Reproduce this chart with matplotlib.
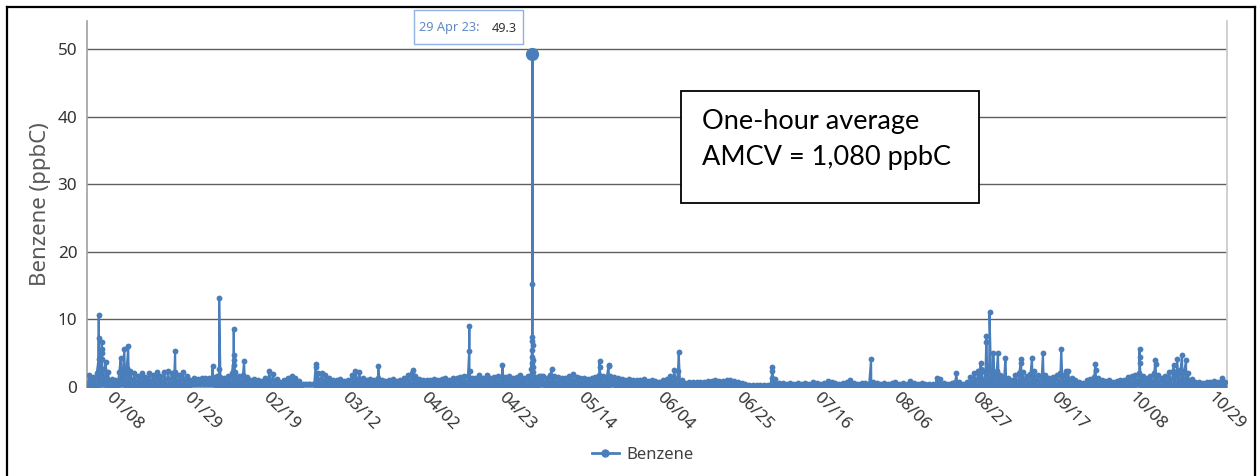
import matplotlib
matplotlib.use('Agg')
import matplotlib.pyplot as plt
import matplotlib.dates as mdates
from matplotlib.lines import Line2D
from matplotlib.patches import Rectangle
import pandas as pd

# ---------------- data ----------------
month_starts = ['2023-01-01', '2023-02-01', '2023-03-01', '2023-04-01', '2023-05-01',
                '2023-06-01', '2023-07-01', '2023-08-01', '2023-09-01', '2023-10-01']

# daily upper envelope of the hourly benzene band (ppbC)
jan_max = [1.8, 1.5, 2.0, 2.5, 2.6, 2.2, 1.2, 1.0, 2.2, 2.6, 2.8, 2.4, 2.0, 1.6, 2.1, 1.5, 2.1, 1.8, 2.2, 1.6,
           2.2, 2.3, 2.0, 2.2, 1.8, 2.2, 1.6, 1.0, 1.3, 1.2, 1.3]
feb_max = [1.3, 1.4, 1.5, 1.6, 1.5, 1.3, 1.6, 2.0, 2.2, 1.7, 1.8, 1.5, 1.0, 1.2, 1.0, 0.9, 1.4, 2.3, 1.9, 1.2,
           0.8, 1.0, 1.3, 1.6, 1.3, 0.9, 0.5, 0.4]
mar_max = [0.4, 0.5, 2.0, 2.1, 1.8, 1.3, 1.1, 1.0, 1.2, 0.9, 1.0, 1.8, 2.4, 2.2, 1.3, 1.0, 1.2, 1.0, 1.4, 1.1,
           0.9, 1.0, 1.2, 0.9, 1.0, 1.3, 1.8, 2.0, 1.6, 1.2, 1.0]
apr_max = [1.0, 1.1, 1.2, 1.0, 1.2, 1.3, 1.1, 1.4, 1.3, 1.5, 1.6, 1.7, 1.4, 1.3, 1.8, 1.4, 1.8, 1.3, 1.5, 1.6,
           1.4, 1.5, 1.7, 1.4, 1.5, 1.8, 1.4, 1.6, 2.0, 1.5]
may_max = [1.7, 1.6, 1.4, 1.8, 1.6, 1.5, 1.4, 1.3, 1.6, 1.9, 1.5, 1.3, 1.4, 1.2, 1.3, 1.5, 1.8, 1.6, 1.4, 1.7,
           1.5, 1.3, 1.2, 1.1, 1.2, 1.0, 1.1, 1.0, 1.2, 0.9, 1.0]
jun_max = [0.9, 0.8, 1.0, 1.2, 1.6, 2.5, 2.3, 1.0, 0.6, 0.7, 0.7, 0.8, 0.7, 0.8, 0.9, 0.9, 1.0, 0.9, 0.9, 1.1,
           1.0, 0.9, 0.7, 0.6, 0.4, 0.3, 0.3, 0.3, 0.3, 0.3]
jul_max = [0.3, 1.4, 1.2, 0.6, 0.6, 0.5, 0.6, 0.5, 0.6, 0.5, 0.6, 0.5, 0.7, 0.6, 0.5, 0.6, 0.9, 0.7, 0.6, 0.5,
           0.6, 0.7, 1.0, 0.6, 0.5, 0.6, 0.6, 0.5, 0.8, 0.6, 0.5]
aug_max = [0.6, 0.5, 0.6, 0.7, 0.5, 0.6, 0.5, 0.9, 0.6, 0.5, 0.6, 0.5, 0.4, 0.5, 1.3, 1.2, 0.6, 0.5, 0.6, 0.8,
           0.7, 0.5, 0.8, 1.5, 2.0, 2.4, 2.5, 2.2, 2.6, 2.0, 2.3]
sep_max = [1.8, 1.5, 1.3, 1.0, 1.8, 2.0, 2.2, 1.6, 1.9, 2.4, 1.8, 1.5, 1.8, 1.3, 1.5, 1.8, 2.0, 1.8, 2.4, 1.3,
           1.0, 0.8, 0.6, 1.0, 1.2, 1.5, 1.3, 1.0, 0.9, 1.0]
oct_max = [0.8, 0.9, 1.0, 1.1, 1.5, 1.6, 1.8, 2.0, 1.7, 1.4, 1.6, 2.0, 1.8, 1.4, 1.7, 2.2, 2.4, 2.2, 2.5, 2.3,
           2.0, 1.2, 0.8, 0.7, 0.6, 0.7, 0.8, 0.9, 0.7, 1.3, 0.8]

# daily lower envelope (ppbC)
jan_min = [0.2, 0.3, 0.2, 0.3, 0.4, 0.3, 0.2, 0.2, 0.3, 0.4, 0.3, 0.3, 0.2, 0.2, 0.3, 0.2, 0.3, 0.2, 0.2, 0.3,
           0.2, 0.2, 0.3, 0.2, 0.2, 0.3, 0.2, 0.2, 0.4, 0.4, 0.5]
feb_min = [0.5, 0.4, 0.4, 0.3, 0.2, 0.2, 0.3, 0.3, 0.2, 0.2, 0.3, 0.2, 0.1, 0.2, 0.1, 0.1, 0.2, 0.3, 0.2, 0.2,
           0.1, 0.1, 0.2, 0.2, 0.1, 0.1, 0.3, 0.4]
mar_min = [0.4, 0.4, 0.2, 0.3, 0.2, 0.2, 0.1, 0.2, 0.1, 0.1, 0.1, 0.3, 0.3, 0.2, 0.1, 0.2, 0.1, 0.2, 0.1, 0.1,
           0.1, 0.2, 0.1, 0.1, 0.2, 0.2, 0.3, 0.2, 0.1, 0.1, 0.1]
apr_min = [0.1, 0.2, 0.2, 0.1, 0.2, 0.2, 0.1, 0.2, 0.2, 0.2, 0.3, 0.2, 0.2, 0.2, 0.3, 0.2, 0.3, 0.2, 0.2, 0.3,
           0.2, 0.2, 0.3, 0.2, 0.2, 0.3, 0.2, 0.2, 0.3, 0.2]
may_min = [0.3, 0.4, 0.2, 0.3, 0.2, 0.2, 0.2, 0.2, 0.2, 0.3, 0.2, 0.2, 0.2, 0.2, 0.2, 0.2, 0.3, 0.2, 0.2, 0.3,
           0.4, 0.2, 0.2, 0.1, 0.2, 0.1, 0.1, 0.1, 0.2, 0.1, 0.1]
jun_min = [0.1, 0.1, 0.1, 0.2, 0.2, 0.3, 0.3, 0.2, 0.1, 0.1, 0.1, 0.1, 0.1, 0.1, 0.1, 0.1, 0.2, 0.1, 0.1, 0.2,
           0.1, 0.1, 0.1, 0.1, 0.1, 0.1, 0.1, 0.1, 0.1, 0.1]
jul_min = [0.1, 0.2, 0.2, 0.1, 0.1, 0.1, 0.1, 0.1, 0.1, 0.1, 0.1, 0.1, 0.1, 0.1, 0.1, 0.1, 0.1, 0.1, 0.1, 0.1,
           0.1, 0.1, 0.1, 0.1, 0.1, 0.1, 0.1, 0.1, 0.1, 0.1, 0.1]
aug_min = [0.1, 0.1, 0.1, 0.1, 0.1, 0.1, 0.1, 0.1, 0.1, 0.1, 0.1, 0.1, 0.1, 0.1, 0.1, 0.1, 0.1, 0.1, 0.1, 0.1,
           0.1, 0.1, 0.1, 0.1, 0.1, 0.2, 0.2, 0.1, 0.1, 0.1, 0.1]
sep_min = [0.2, 0.2, 0.2, 0.1, 0.2, 0.2, 0.2, 0.2, 0.2, 0.2, 0.2, 0.2, 0.2, 0.1, 0.1, 0.2, 0.2, 0.2, 0.3, 0.2,
           0.1, 0.1, 0.1, 0.1, 0.1, 0.2, 0.2, 0.1, 0.1, 0.1]
oct_min = [0.1, 0.1, 0.1, 0.1, 0.2, 0.2, 0.2, 0.4, 0.2, 0.2, 0.2, 0.2, 0.2, 0.2, 0.2, 0.2, 0.2, 0.3, 0.2, 0.2,
           0.2, 0.1, 0.1, 0.1, 0.1, 0.1, 0.1, 0.1, 0.1, 0.1, 0.1]

# individual hourly peaks (ppbC)
spike_times = ['2023-01-04 02:00', '2023-01-04 03:00', '2023-01-04 04:00',
               '2023-01-04 21:00', '2023-01-04 22:00', '2023-01-04 23:00', '2023-01-05 00:00',
               '2023-01-06 01:00', '2023-01-10 00:00', '2023-01-10 23:00', '2023-01-12 00:00',
               '2023-01-24 12:00', '2023-02-03 12:00', '2023-02-05 05:00', '2023-02-05 06:00',
               '2023-02-09 02:00', '2023-02-09 03:00', '2023-02-09 04:00', '2023-02-09 05:00',
               '2023-02-11 21:00', '2023-03-03 00:00', '2023-03-03 01:00', '2023-03-19 16:00',
               '2023-03-28 22:00', '2023-04-12 22:00', '2023-04-12 23:00', '2023-04-13 00:00',
               '2023-04-21 19:00',
               '2023-04-29 12:00', '2023-04-29 13:00', '2023-04-29 14:00', '2023-04-29 15:00',
               '2023-04-29 16:00', '2023-04-29 17:00', '2023-04-29 18:00', '2023-04-29 19:00',
               '2023-04-29 20:00', '2023-04-29 21:00', '2023-04-29 22:00', '2023-04-29 23:00',
               '2023-05-02 00:00', '2023-05-04 21:00', '2023-05-17 16:00', '2023-05-17 17:00',
               '2023-05-20 02:00', '2023-05-20 03:00', '2023-06-07 19:00', '2023-07-02 16:00',
               '2023-07-02 17:00', '2023-07-29 02:00', '2023-08-20 19:00', '2023-08-27 07:00',
               '2023-08-27 08:00', '2023-08-28 19:00', '2023-08-28 20:00', '2023-08-29 16:00',
               '2023-08-30 16:00', '2023-08-31 22:00', '2023-09-02 22:00', '2023-09-07 02:00',
               '2023-09-07 03:00', '2023-09-10 00:00', '2023-09-12 22:00', '2023-09-17 19:00',
               '2023-09-19 02:00', '2023-09-26 22:00', '2023-09-26 23:00', '2023-10-08 16:00',
               '2023-10-08 17:00', '2023-10-08 18:00', '2023-10-12 22:00', '2023-10-12 23:00',
               '2023-10-17 19:00', '2023-10-18 17:00', '2023-10-20 00:00', '2023-10-21 02:00']
spike_values = [4.2, 10.7, 7.3,
                4.2, 5.0, 6.7, 5.7,
                3.75, 4.25, 5.7, 6.0,
                5.4, 3.1, 2.7, 13.2,
                4.0, 8.6, 4.7, 3.3,
                3.85, 3.4, 3.0, 3.15,
                2.55, 5.4, 9.1, 2.4,
                3.2,
                2.6, 3.6, 4.5, 5.5,
                6.8, 7.4, 15.2, 49.3,
                6.2, 4.0, 3.0, 2.2,
                1.7, 2.6, 3.9, 3.0,
                3.2, 3.1, 5.2, 2.4,
                3.0, 4.15, 2.1, 3.5,
                2.7, 6.7, 7.55, 11.1,
                5.1, 5.1, 4.25, 4.15,
                3.6, 4.35, 5.0, 5.6,
                2.4, 3.45, 2.5, 5.6,
                4.4, 3.5, 4.05, 3.4,
                3.25, 4.15, 4.7, 4.0]

peak_time = '2023-04-29 19:00'
peak_label = '29 Apr 23:'
peak_value = 49.3

x_ticks = ['2023-01-08', '2023-01-29', '2023-02-19', '2023-03-12', '2023-04-02', '2023-04-23',
           '2023-05-14', '2023-06-04', '2023-06-25', '2023-07-16', '2023-08-06', '2023-08-27',
           '2023-09-17', '2023-10-08', '2023-10-29']
y_ticks = [0, 10, 20, 30, 40, 50]
series_name = 'Benzene'
y_label = 'Benzene (ppbC)'
note_lines = ['One-hour average', 'AMCV = 1,080 ppbC']

# ---------------- assemble hourly-like series ----------------
max_lists = [jan_max, feb_max, mar_max, apr_max, may_max, jun_max, jul_max, aug_max, sep_max, oct_max]
min_lists = [jan_min, feb_min, mar_min, apr_min, may_min, jun_min, jul_min, aug_min, sep_min, oct_min]
times, vals = [], []
for start, mn, mx in zip(month_starts, min_lists, max_lists):
    s = pd.Timestamp(start)
    for i, (lo, hi) in enumerate(zip(mn, mx)):
        day = s + pd.Timedelta(days=i)
        times += [day + pd.Timedelta(hours=4), day + pd.Timedelta(hours=14)]
        vals += [lo, hi]
times += list(pd.to_datetime(spike_times))
vals += spike_values
series = pd.Series(vals, index=pd.DatetimeIndex(times)).sort_index()

# ---------------- figure ----------------
W, H = 1257, 476
fig = plt.figure(figsize=(W / 100, H / 100), dpi=100)
fig.patch.set_facecolor('white')
FONT = ['Noto Sans', 'DejaVu Sans']

left_px, right_px, top_px, bottom_px = 87, 1227, 21, 387
ax = fig.add_axes([left_px / W, 1 - bottom_px / H, (right_px - left_px) / W, (bottom_px - top_px) / H])

blue = '#4a7ebb'
ax.fill_between(series.index, series.values, 0, color=blue, lw=0, zorder=2)
ax.plot(series.index, series.values, color=blue, lw=1.5, marker='o', ms=4.2,
        markeredgewidth=0, zorder=3, label=series_name)
ax.plot([pd.Timestamp(peak_time)], [peak_value], 'o', color=blue, ms=8.5, zorder=4)

ax.set_xlim(pd.Timestamp('2023-01-01'), pd.Timestamp('2023-11-01'))
ax.set_ylim(0, 54.2)
ax.set_yticks(y_ticks)
ax.set_xticks(pd.to_datetime(x_ticks))
ax.xaxis.set_major_formatter(mdates.DateFormatter('%m/%d'))

for yv in y_ticks[1:]:
    ax.axhline(yv, color='#5e5e5e', lw=1.0, zorder=1)

ax.spines['top'].set_visible(False)
ax.spines['left'].set_color('#a0a0a0')
ax.spines['bottom'].set_color('#a0a0a0')
ax.spines['right'].set_color('#c8c8c8')
for s in ['left', 'bottom', 'right']:
    ax.spines[s].set_linewidth(1.2)

ax.tick_params(axis='both', length=0, labelsize=12.3, labelcolor='#333333')
ax.tick_params(axis='y', pad=7)
ax.tick_params(axis='x', pad=2)
for lab in ax.get_yticklabels():
    lab.set_fontfamily(FONT)
for lab in ax.get_xticklabels():
    lab.set_fontfamily(FONT)
    lab.set_rotation(-45)
    lab.set_ha('left')
    lab.set_va('top')
    lab.set_rotation_mode('anchor')

ax.set_ylabel(y_label, fontsize=16, color='#595959', family=FONT)
ax.yaxis.set_label_coords(-0.032, 0.5)

# legend
fig.legend(handles=[Line2D([], [], color=blue, lw=2, marker='o', ms=5)], labels=[series_name],
           loc='center', bbox_to_anchor=(643 / W, 1 - 455 / H), frameon=False,
           handlelength=1.6, handletextpad=0.5, prop={'family': FONT, 'size': 12},
           labelcolor='#404040')

# note box
bx0, by0, bx1, by1 = 681, 91, 979, 203
fig.add_artist(Rectangle((bx0 / W, 1 - by1 / H), (bx1 - bx0) / W, (by1 - by0) / H,
                         transform=fig.transFigure, facecolor='white', edgecolor='black',
                         lw=1.3, zorder=5))
fig.text(702 / W, 1 - 129 / H, note_lines[0], fontsize=19.5, family=['Lato', 'DejaVu Sans'],
         color='black', va='baseline', ha='left', zorder=6)
fig.text(702 / W, 1 - 165 / H, note_lines[1], fontsize=19.5, family=['Lato', 'DejaVu Sans'],
         color='black', va='baseline', ha='left', zorder=6)

# tooltip
fig.add_artist(Rectangle((414 / W, 1 - 44 / H), (523 - 414) / W, (44 - 10) / H,
                         transform=fig.transFigure, facecolor='white', edgecolor='#8fb2e0',
                         lw=1.0, zorder=5))
fig.text(419 / W, 1 - 31.5 / H, peak_label, fontsize=9.2, family=FONT, color='#5f8ac6',
         va='baseline', ha='left', zorder=6)
fig.text(517 / W, 1 - 31.5 / H, f'{peak_value}', fontsize=9.2, family=FONT, color='#333333',
         va='baseline', ha='right', zorder=6)

# outer frame
for (xa, ya, xb, yb) in [(7, 7, 1255, 7), (7, 7, 7, 480), (1255, 7, 1255, 480)]:
    fig.add_artist(Line2D([xa / W, xb / W], [1 - ya / H, 1 - yb / H], transform=fig.transFigure,
                          color='black', lw=1.6, zorder=10))

fig.savefig('out.png', dpi=100, facecolor='white')
